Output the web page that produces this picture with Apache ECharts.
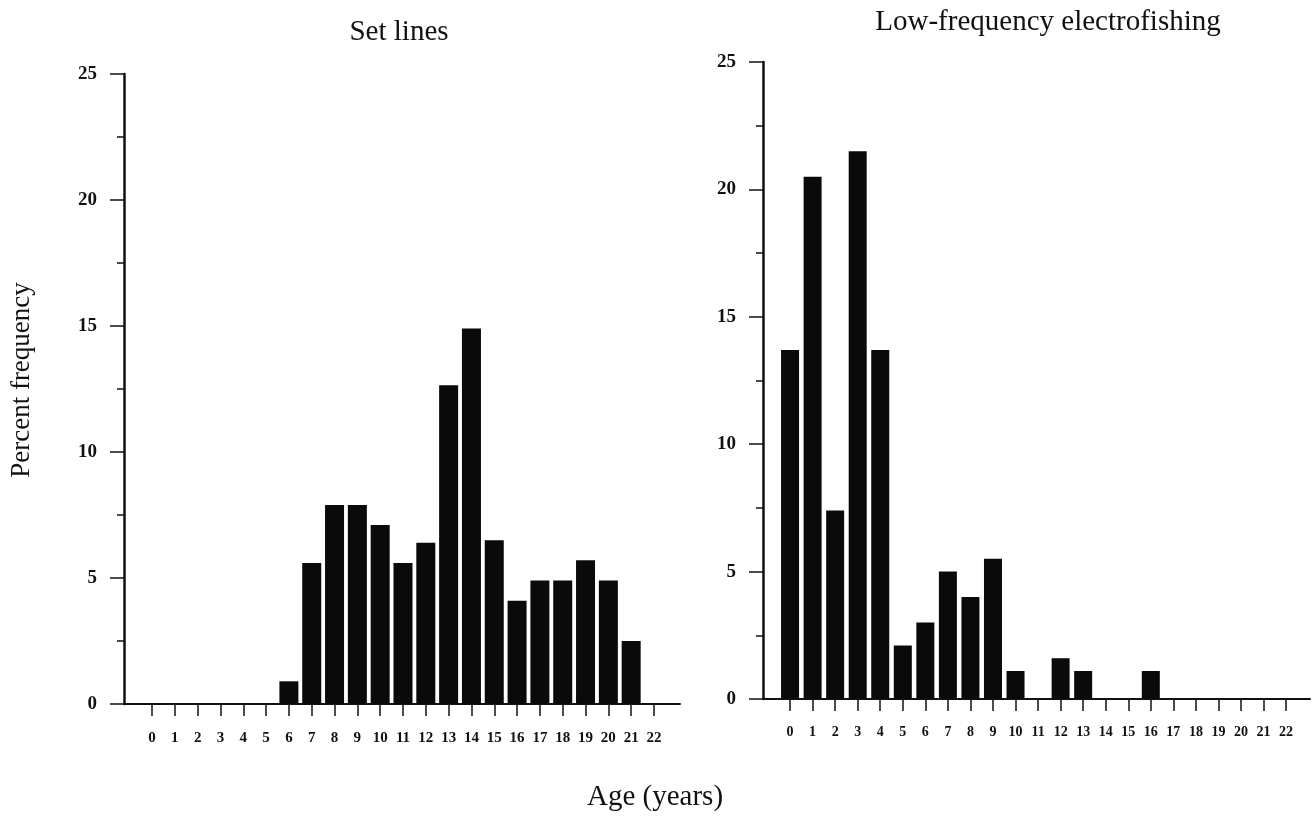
<!DOCTYPE html>
<html>
<head>
<meta charset="utf-8">
<script src="https://cdn.jsdelivr.net/npm/echarts@6/dist/echarts.min.js"></script>
<style>
  html, body { margin: 0; padding: 0; background: #fff; }
  #main { width: 1315px; height: 825px; }
</style>
</head>
<body>
<div id="main"></div>
<script>
  // age classes (years)
  var ages = [0, 1, 2, 3, 4, 5, 6, 7, 8, 9, 10, 11, 12, 13, 14, 15, 16, 17, 18, 19, 20, 21, 22]
  // percent frequency, set lines
  var setLines = [0, 0, 0, 0, 0, 0, 0.9, 5.6, 7.9, 7.9, 7.1, 5.6, 6.4, 12.65, 14.9, 6.5, 4.1, 4.9, 4.9, 5.7, 4.9, 2.5, 0]
  // percent frequency, low-frequency electrofishing
  var electro = [13.7, 20.5, 7.4, 21.5, 13.7, 2.1, 3.0, 5.0, 4.0, 5.5, 1.1, 0, 1.6, 1.1, 0, 0, 1.1, 0, 0, 0, 0, 0, 0]

  var serif = 'Liberation Serif'

  function pairs(vals) {
    return ages.map(function (a, i) { return [a, vals[i]] })
  }

  function xAxisOf(idx, min, max, fs, margin) {
    return {
      type: 'value',
      gridIndex: idx,
      min: min,
      max: max,
      axisLine: { show: true, onZero: false, lineStyle: { color: '#111', width: 2 } },
      axisTick: { show: true, length: 12, customValues: ages, lineStyle: { color: '#111', width: 1.5 } },
      axisLabel: {
        customValues: ages,
        margin: margin,
        color: '#111',
        fontFamily: serif,
        fontWeight: 'bold',
        fontSize: fs
      },
      splitLine: { show: false }
    }
  }

  function yAxisOf(idx) {
    return {
      type: 'value',
      gridIndex: idx,
      min: 0,
      max: 25,
      interval: 5,
      axisLine: { show: true, onZero: false, lineStyle: { color: '#111', width: 2.5 } },
      axisTick: { show: true, length: 14, lineStyle: { color: '#111', width: 1.5 } },
      minorTick: { show: true, splitNumber: 2, length: 7, lineStyle: { color: '#111', width: 1.5 } },
      axisLabel: {
        margin: 27,
        color: '#111',
        fontFamily: serif,
        fontWeight: 'bold',
        fontSize: 19
      },
      splitLine: { show: false }
    }
  }

  var myChart = echarts.init(document.getElementById('main'))
  var option = {
    backgroundColor: '#fff',
    animation: false,
    title: [
      {
        text: 'Set lines',
        left: 394,
        top: 13,
        textAlign: 'center',
        textStyle: { fontFamily: serif, fontWeight: 'normal', fontSize: 29, color: '#111' }
      },
      {
        text: 'Low-frequency electrofishing',
        left: 1043,
        top: 3,
        textAlign: 'center',
        textStyle: { fontFamily: serif, fontWeight: 'normal', fontSize: 29, color: '#111' }
      }
    ],
    grid: [
      { left: 124, right: 635, top: 74, bottom: 121 },
      { left: 763, right: 5, top: 62, bottom: 126 }
    ],
    xAxis: [
      xAxisOf(0, -1.227, 23.14, 15, 27),
      xAxisOf(1, -1.2, 23.06, 14, 26)
    ],
    yAxis: [
      yAxisOf(0),
      yAxisOf(1)
    ],
    graphic: [
      {
        type: 'text',
        x: 22,
        y: 380,
        rotation: Math.PI / 2,
        style: {
          text: 'Percent frequency',
          fontFamily: serif,
          fontSize: 27,
          fill: '#111',
          align: 'center',
          verticalAlign: 'middle'
        }
      },
      {
        type: 'text',
        x: 655,
        y: 797,
        style: {
          text: 'Age (years)',
          fontFamily: serif,
          fontSize: 29,
          fill: '#111',
          align: 'center',
          verticalAlign: 'middle'
        }
      }
    ],
    series: [
      {
        name: 'Set lines',
        type: 'bar',
        xAxisIndex: 0,
        yAxisIndex: 0,
        barWidth: 19,
        itemStyle: { color: '#0a0a0a' },
        data: pairs(setLines)
      },
      {
        name: 'Low-frequency electrofishing',
        type: 'bar',
        xAxisIndex: 1,
        yAxisIndex: 1,
        barWidth: 18,
        itemStyle: { color: '#0a0a0a' },
        data: pairs(electro)
      }
    ]
  }
  myChart.setOption(option)
</script>
</body>
</html>
